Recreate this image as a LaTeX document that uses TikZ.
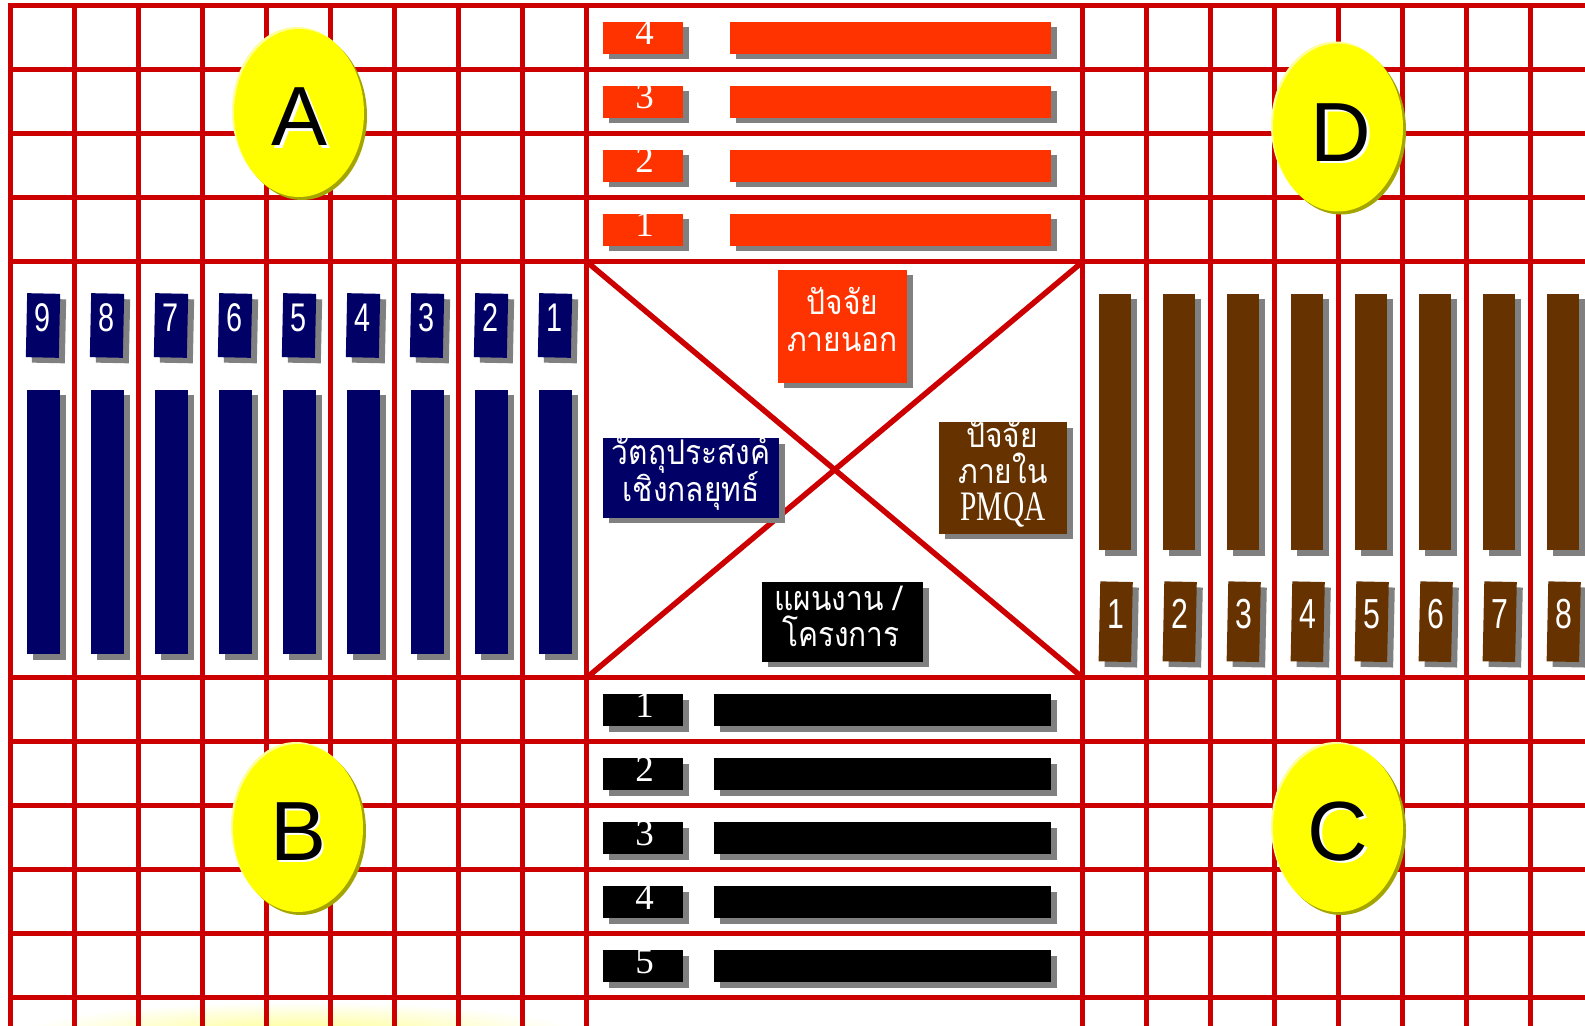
\documentclass[tikz,border=0pt]{standalone}
\usepackage{fontspec}
\setmainfont{Liberation Serif}
\newfontfamily\thaifont[Script=Thai,FakeStretch=0.88]{Loma}
\newfontfamily\letterfont{Liberation Sans}
\newfontfamily\narrowsans[FakeStretch=0.72]{Liberation Sans}
\newfontfamily\narrowserif[FakeStretch=0.7]{Liberation Serif}
\usetikzlibrary{shapes.geometric,shadows}
\definecolor{gridred}{HTML}{CC0000}
\definecolor{shgray}{HTML}{808080}
\definecolor{orng}{HTML}{FF3300}
\definecolor{navyb}{HTML}{000066}
\definecolor{brownb}{HTML}{663300}
\definecolor{ylw}{HTML}{FFFF00}
\definecolor{ylwdark}{HTML}{A5A500}
\definecolor{ylwlight}{HTML}{FFFF99}
\tikzset{
  gl/.style={draw=gridred, line width=2.75pt},
  sh/.style={general shadow={fill=shgray, shadow xshift=3pt, shadow yshift=-2.75pt}},
  wh/.style 2 args={minimum width=#1*0.5pt, minimum height=#2*0.5pt},
  boxn/.style={rectangle, inner sep=0pt, outer sep=0pt, sh},
  serdig/.style={text=white, inner sep=0pt, anchor=base, font=\fontsize{18.5}{20}\selectfont},
  sansdig/.style={text=white, inner sep=0pt, anchor=base, font=\narrowsans\fontsize{20}{22}\selectfont},
  sansdigr/.style={text=white, inner sep=0pt, anchor=base, font=\narrowsans\fontsize{21}{23}\selectfont},
  thaitxt/.style={text=white, inner sep=0pt, anchor=base, font=\thaifont\fontsize{17}{19}\selectfont},
  yell/.style={ellipse, fill=ylw, inner sep=0pt, minimum width=65pt, minimum height=84pt,
    general shadow={fill=ylwlight, shadow xshift=-1pt, shadow yshift=1pt},
    general shadow={fill=ylwdark, shadow xshift=1.5pt, shadow yshift=-1.5pt}},
  letr/.style={inner sep=0pt, anchor=base, font=\letterfont\fontsize{42}{44}\selectfont},
}
\begin{document}
\begin{tikzpicture}[x=0.5pt, y=-0.5pt]
\useasboundingbox (0,0) rectangle (1585,1026);
\clip (0,0) rectangle (1585,1026);
\fill[white] (0,0) rectangle (1585,1026);
% faint glow at bottom left
\shade[inner color=yellow!45, outer color=white] (300,1034) ellipse [x radius=140pt, y radius=16pt];
% grid
\foreach \k in {0,...,9} \draw[gl] (10.7+64*\k, 3) -- (10.7+64*\k, 1030);
\foreach \k in {0,...,8} \draw[gl] (1082.7+64*\k, 3) -- (1082.7+64*\k, 1030);
\foreach \k in {0,...,4} \draw[gl] (8, 5.7+64*\k) -- (1590, 5.7+64*\k);
\foreach \k in {0,...,5} \draw[gl] (8, 677.7+64*\k) -- (1590, 677.7+64*\k);
\draw[gl] (586.7,261.7) -- (1082.7,677.7);
\draw[gl] (1082.7,261.7) -- (586.7,677.7);
% top rows
\foreach \lab [count=\i from 0] in {4,3,2,1} {
  \node[boxn, fill=orng, wh={80}{32}] (tn\lab) at (642.7, 38+64*\i) {};
  \node[boxn, fill=orng, wh={321}{32}] (tb\lab) at (890.5, 38+64*\i) {};
  \node[serdig] (tl\lab) at (644.5, 45+64*\i) {\lab};
}
% bottom rows
\foreach \lab [count=\i from 0] in {1,2,3,4,5} {
  \node[boxn, fill=black, wh={80}{32}] (bn\lab) at (642.7, 710+64*\i) {};
  \node[boxn, fill=black, wh={337}{32}] (bb\lab) at (882.5, 710+64*\i) {};
  \node[serdig] (bl\lab) at (644.5, 717+64*\i) {\lab};
}
% left columns
\foreach \k in {0,...,8} {
  \pgfmathtruncatemacro{\lab}{9-\k}
  \node[boxn, fill=navyb, wh={33}{64}, rotate=-1.2] (ln\lab) at (43+64*\k, 325.5) {};
  \node[sansdig] (ll\lab) at (43+64*\k, 332) {\lab};
  \node[boxn, fill=navyb, wh={32.5}{264}] (lb\lab) at (43.5+64*\k, 522) {};
}
% right columns
\foreach \k in {0,...,7} {
  \pgfmathtruncatemacro{\lab}{\k+1}
  \node[boxn, fill=brownb, wh={32}{256}] (rb\lab) at (1115+64*\k, 422) {};
  \node[boxn, fill=brownb, wh={32.5}{80}, rotate=-1.2] (rn\lab) at (1115.7+64*\k, 621.7) {};
  \node[sansdigr] (rl\lab) at (1115.7+64*\k, 628) {\lab};
}
% centre boxes
\node[boxn, fill=orng, wh={129}{112.7}] (ob) at (842.5,326.3) {};
\node[thaitxt] (ot1) at (842.5,315) {ปัจจัย};
\node[thaitxt] (ot2) at (842.5,351.7) {ภายนอก};
\node[boxn, fill=navyb, wh={176}{79.4}] (nb) at (691,478) {};
\node[thaitxt] (nt1) at (691,465) {วัตถุประสงค์};
\node[thaitxt] (nt2) at (691,501.7) {เชิงกลยุทธ์};
\node[boxn, fill=brownb, wh={128}{111.4}] (brb) at (1003,478) {};
\node[thaitxt] (bt1) at (1002,447.5) {ปัจจัย};
\node[thaitxt] (bt2) at (1003,483) {ภายใน};
\node[text=white, inner sep=0pt, anchor=base, font=\narrowserif\fontsize{21}{23}\selectfont] (bt3) at (1003,520.5) {PMQA};
\node[boxn, fill=black, wh={161}{79.4}] (kb) at (842.5,622) {};
\node[thaitxt] (kt1) at (838.5,610) {แผนงาน /};
\node[thaitxt] (kt2) at (841,646.7) {โครงการ};
% yellow ellipses
\node[yell] (eA) at (299,113) {};
\node[yell] (eB) at (298,828) {};
\node[yell] (eC) at (1338,828) {};
\node[yell] (eD) at (1338,127.5) {};
\node[letr, text=white] (sA) at (302.5,148.5) {A};
\node[letr] (lA) at (300,146) {A};
\node[letr, text=white] (sB) at (301,862.5) {B};
\node[letr] (lB) at (298.5,860) {B};
\node[letr, text=white] (sC) at (1340.5,862.5) {C};
\node[letr] (lC) at (1338,860) {C};
\node[letr, text=white] (sD) at (1343.5,164) {D};
\node[letr] (lD) at (1341,161.5) {D};
\end{tikzpicture}
\end{document}
